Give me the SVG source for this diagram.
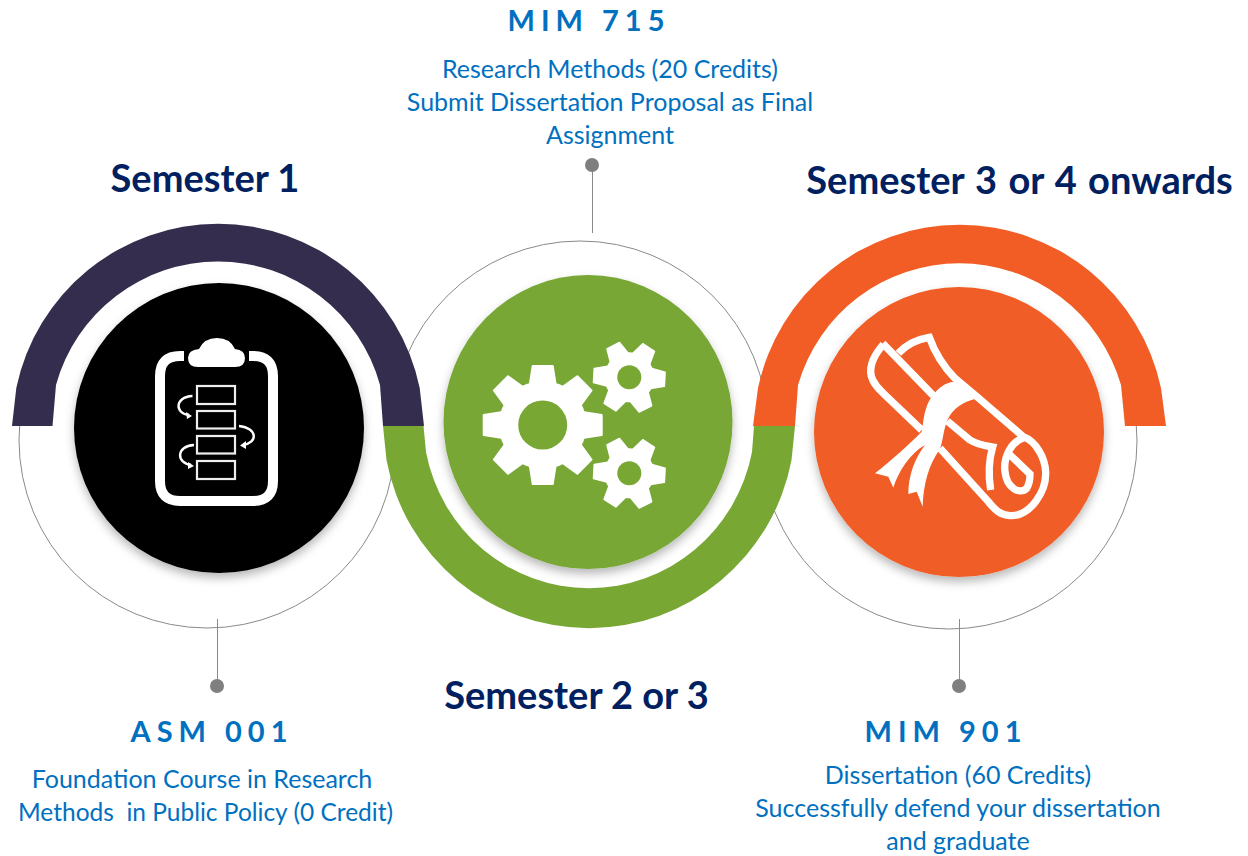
<svg xmlns="http://www.w3.org/2000/svg" width="1248" height="856" viewBox="0 0 1248 856">
<defs>
<filter id="sh" x="-20%" y="-20%" width="140%" height="140%"><feDropShadow dx="0" dy="5" stdDeviation="5" flood-color="#000" flood-opacity="0.28"/></filter>
<polygon id="bigtooth" points="-13,-40 -10,-59 10,-59 13,-40" stroke="#fff" stroke-width="2" stroke-linejoin="round"/>
<polygon id="smalltooth" points="-10,-22 -7,-35.5 7,-35.5 10,-22" stroke="#fff" stroke-width="1.5" stroke-linejoin="round"/>
<g id="smallgear">
<circle r="25"/>
<use href="#smalltooth" transform="rotate(33)"/><use href="#smalltooth" transform="rotate(93)"/><use href="#smalltooth" transform="rotate(153)"/><use href="#smalltooth" transform="rotate(213)"/><use href="#smalltooth" transform="rotate(273)"/><use href="#smalltooth" transform="rotate(333)"/>
<circle r="12" fill="#78a734"/>
</g>
</defs>
<style>
text{font-family:Lato,"Open Sans",sans-serif;text-anchor:middle;white-space:pre}
.sem{font-weight:700;font-size:38px;fill:#002060}
.code{font-weight:700;font-size:29px;fill:#0070c0;letter-spacing:6px}
.body{font-size:25px;fill:#0070c0}
.thin{fill:none;stroke:#8a8a8a;stroke-width:1}
.dot{fill:#7f7f7f}
.ic{fill:none;stroke:#fff}
.wf{fill:#fff}
</style>
<rect width="1248" height="856" fill="#fff"/>
<g id="connectors">
<circle class="thin" cx="207" cy="440" r="188"/>
<circle class="thin" cx="580" cy="429" r="188"/>
<circle class="thin" cx="949" cy="441" r="188"/>
<path class="thin" d="M217.5 619V686M592.5 165V233M959.5 619V686"/>
<circle class="dot" cx="217" cy="686" r="7"/>
<circle class="dot" cx="592" cy="165" r="7"/>
<circle class="dot" cx="959" cy="686" r="7"/>
</g>
<g id="node-semester-1">
<path fill="#352d4d" d="M12 426L16.3 388A206 206 0 0 1 419.7 388L424 426H383L380 385A168 168 0 0 0 56 385L52.5 426Z"/>
<circle cx="219" cy="428" r="145" fill="#000" filter="url(#sh)"/>
<g class="ic">
<path stroke-width="10" d="M184 356H180Q160 356 160 376V481Q160 501 180 501H253Q273 501 273 481V376Q273 356 253 356H249"/>
<path class="wf" stroke="none" d="M198 367Q188 367 188 358Q188 350 199 349Q204 338 217 338Q230 338 235 349Q245 350 245 358Q245 367 235 367Z"/>
<g stroke-width="2.2" stroke="#eee"><rect x="197" y="386" width="38" height="18"/><rect x="197" y="411" width="38" height="17.5"/><rect x="197" y="436" width="38" height="17.5"/><rect x="197" y="461" width="38" height="18"/></g>
<g stroke-width="2.4"><path d="M192.500 396C174 397 175 414 189 415"/><path d="M239 426C258 428 258 443 243 445"/><path d="M194 445C176 446 176 463 191 465"/></g>
<path class="wf" stroke="none" d="M192 416L186 412L187 419ZM240 445.500L246 441L246 449ZM194 466L188 462L188 469Z"/>
</g>
</g>
<g id="node-semester-2">
<path fill="#78a734" d="M383 426H423.500L426 452A166 168 0 0 0 752 452L754 426H795L791.500 460A206 206 0 0 1 386.500 460Z"/>
<ellipse cx="588" cy="422" rx="144.500" ry="147" fill="#78a734" filter="url(#sh)"/>
<g class="wf">
<g transform="translate(542.700,425)">
<circle r="44"/>
<use href="#bigtooth"/><use href="#bigtooth" transform="rotate(45)"/><use href="#bigtooth" transform="rotate(90)"/><use href="#bigtooth" transform="rotate(135)"/><use href="#bigtooth" transform="rotate(180)"/><use href="#bigtooth" transform="rotate(225)"/><use href="#bigtooth" transform="rotate(270)"/><use href="#bigtooth" transform="rotate(315)"/>
<circle r="24.500" fill="#78a734"/>
</g>
<use href="#smallgear" x="629.300" y="377.300"/>
<use href="#smallgear" x="629.300" y="473.300"/>
</g>
</g>
<g id="node-semester-3">
<path fill="#f15d25" d="M753 426L758 388A206 206 0 0 1 1161 388L1166 426H1125L1121 385A168 168 0 0 0 798 385L795 426Z"/>
<circle cx="959" cy="432" r="145" fill="#f15d25" filter="url(#sh)"/>
<g transform="translate(860,325) scale(0.3333)">
<g class="ic" stroke-width="22" stroke-linejoin="miter">
<path d="M70 58C38 95 22 130 38 165C48 185 60 195 70 205L185 315"/>
<path d="M68 55L220 212"/>
<path d="M115 85C140 58 175 42 208 37C225 85 250 125 285 160L345 210L490 335C530 350 555 400 557 440C560 500 510 575 450 572C420 570 405 555 385 530L240 370"/>
<path d="M262 288L330 345C350 358 375 362 398 366C388 400 385 450 392 495"/>
<path d="M495 337C450 350 430 400 435 440C440 490 480 510 500 490C510 475 510 460 510 447L445 385"/>
</g>
<path class="wf" d="M285 170C250 170 215 205 200 245C190 270 190 295 185 320C145 360 90 410 45 445L85 455L100 488C115 440 150 385 195 360C165 400 145 450 145 507L170 500L188 545C190 480 205 420 240 372C250 345 250 310 265 280C280 250 310 230 345 222L330 190Z"/>
</g>
</g>
<g id="labels">
<text class="sem" x="205" y="192">Semester 1</text>
<text class="sem" x="576.500" y="709">Semester 2 or 3</text>
<text class="sem" x="1019.500" y="194" word-spacing="2">Semester 3 or 4 onwards</text>
<text class="code" x="589" y="31">MIM 715</text>
<text class="body" x="610" y="78">Research Methods (20 Credits)</text>
<text class="body" x="610" y="111">Submit Dissertation Proposal as Final</text>
<text class="body" x="610" y="144">Assignment</text>
<text class="code" x="212" y="742">ASM 001</text>
<text class="body" x="202" y="788">Foundation Course in Research</text>
<text class="body" x="205.500" y="821" textLength="375" lengthAdjust="spacingAndGlyphs">Methods  in Public Policy (0 Credit)</text>
<text class="code" x="946" y="742">MIM 901</text>
<text class="body" x="958" y="784">Dissertation (60 Credits)</text>
<text class="body" x="958" y="817">Successfully defend your dissertation</text>
<text class="body" x="958" y="850">and graduate</text>
</g>
</svg>
